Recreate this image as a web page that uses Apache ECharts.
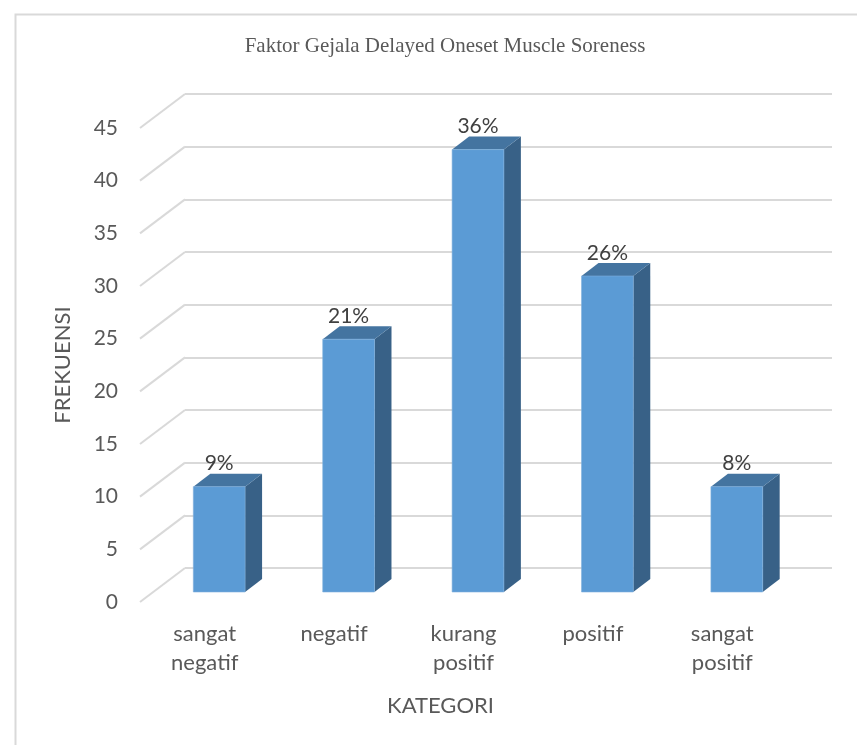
<!DOCTYPE html>
<html><head><meta charset="utf-8">
<script src="https://cdn.jsdelivr.net/npm/echarts@6/dist/echarts.min.js"></script>
<style>html,body{margin:0;padding:0;background:#fff}#c{width:857px;height:745px}</style>
</head><body><div id="c"></div>
<script>
const categories = ['sangat\nnegatif', 'negatif', 'kurang\npositif', 'positif', 'sangat\npositif'];
const frekuensi = [10, 24, 42, 30, 10];
const persen = ['9%', '21%', '36%', '26%', '8%'];
const yTicks = [0, 5, 10, 15, 20, 25, 30, 35, 40, 45];
const titleText = 'Faktor Gejala Delayed Oneset Muscle Soreness';

const FONT = 'Lato';
const GRID_COLOR = '#d9d9d9';
const TXT = '#595959';

// depth offsets
const WALL_DX = -45, WALL_DY = 34;   // back wall -> front plane
const FACE_DX = -30.5, FACE_DY = 24; // back wall -> bar front face
const BAR_DX = 17, BAR_DY = -13;     // bar depth

function renderBar(params, api) {
  const i = api.value(0), v = api.value(1);
  const b = api.coord([i, 0]);
  const t = api.coord([i, v]);
  const w = api.size([1, 0])[0] * 0.4;
  const cx = b[0] + FACE_DX;
  const l = cx - w / 2, r = cx + w / 2;
  const by = b[1] + FACE_DY, ty = t[1] + FACE_DY;
  return {
    type: 'group',
    children: [
      { type: 'polygon', shape: { points: [[r, ty], [r + BAR_DX, ty + BAR_DY], [r + BAR_DX, by + BAR_DY], [r, by]] },
        style: { fill: '#386187' } },
      { type: 'polygon', shape: { points: [[l, ty], [r, ty], [r + BAR_DX, ty + BAR_DY], [l + BAR_DX, ty + BAR_DY]] },
        style: { fill: '#4474a0' } },
      { type: 'rect', shape: { x: l, y: ty, width: w, height: by - ty },
        style: { fill: '#5b9bd5', stroke: '#7fb0de', lineWidth: 0.6 } },
      { type: 'text', x: cx, y: ty - 23,
        style: { text: persen[params.dataIndex], fill: '#404040', font: '21px ' + FONT, align: 'center', verticalAlign: 'middle' } }
    ]
  };
}

function renderDiag(params, api) {
  const v = api.value(1);
  const y = api.coord([0, v])[1];
  const x0 = params.coordSys.x;
  return {
    type: 'line',
    shape: { x1: x0, y1: y, x2: x0 + WALL_DX, y2: y + WALL_DY },
    style: { stroke: GRID_COLOR, lineWidth: 2 }
  };
}

const chart = echarts.init(document.getElementById('c'), null, { renderer: 'canvas' });
chart.setOption({
  backgroundColor: '#fff',
  animation: false,
  title: {
    text: titleText, left: 440, top: 31, textAlign: 'center',
    textStyle: { fontFamily: 'Liberation Serif', fontSize: 21, fontWeight: 'normal', color: TXT }
  },
  graphic: [{
    type: 'rect', left: 13, top: 12, shape: { x: 0, y: 0, width: 900, height: 800 },
    style: { fill: 'none', stroke: GRID_COLOR, lineWidth: 2 }, silent: true
  }],
  grid: [
    { left: 185, right: 25, top: 94, bottom: 177 },
    { left: 140, right: 70, top: 128, bottom: 143 }
  ],
  xAxis: [
    { gridIndex: 0, type: 'category', data: categories, show: false },
    { gridIndex: 1, type: 'category', data: categories,
      axisLine: { show: false }, axisTick: { show: false },
      axisLabel: { fontFamily: FONT, fontSize: 22, color: TXT, lineHeight: 29, margin: 17 },
      name: 'KATEGORI', nameLocation: 'middle', nameGap: 93,
      nameTextStyle: { fontFamily: FONT, fontSize: 22, color: TXT, padding: [0, 46, 0, 0] } }
  ],
  yAxis: [
    { gridIndex: 0, type: 'value', min: 0, max: 45, interval: 5,
      axisLabel: { show: false }, axisLine: { show: false }, axisTick: { show: false },
      splitLine: { lineStyle: { color: GRID_COLOR, width: 2 } } },
    { gridIndex: 1, type: 'value', min: 0, max: 45, interval: 5,
      axisLine: { show: false }, axisTick: { show: false }, splitLine: { show: false },
      axisLabel: { fontFamily: FONT, fontSize: 21, color: TXT, margin: 22 },
      name: 'FREKUENSI', nameLocation: 'middle', nameRotate: 90, nameGap: 66,
      nameTextStyle: { fontFamily: FONT, fontSize: 22, color: TXT } }
  ],
  series: [
    { type: 'custom', xAxisIndex: 0, yAxisIndex: 0, z: 1, silent: true,
      renderItem: renderDiag, data: yTicks.map(v => [0, v]) },
    { type: 'custom', xAxisIndex: 0, yAxisIndex: 0, z: 3,
      renderItem: renderBar, data: frekuensi.map((v, i) => [i, v]) }
  ]
});
</script></body></html>
